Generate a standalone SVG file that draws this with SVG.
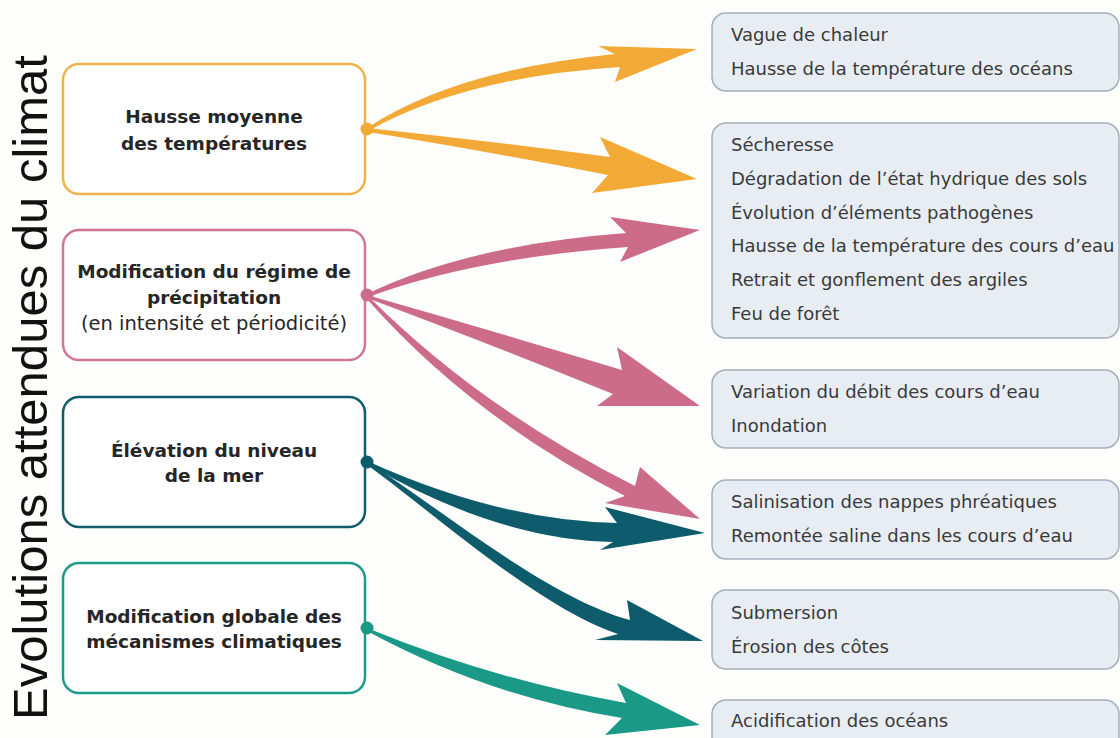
<svg xmlns="http://www.w3.org/2000/svg" width="1120" height="738" viewBox="0 0 1120 738">
<style>
.lbox{fill:#ffffff;stroke-width:2.5}
.rbox{fill:#e7edf2;stroke:#a3b0b9;stroke-width:1.5}
.lt{font-family:"DejaVu Sans",sans-serif;font-size:18.5px;font-weight:bold;fill:#262626;text-anchor:middle}
.lr{font-family:"DejaVu Sans",sans-serif;font-size:19.5px;fill:#262626;text-anchor:middle}
.rt{font-family:"DejaVu Sans",sans-serif;font-size:18px;fill:#3a3a3a}
.title{font-family:"Liberation Sans",Arial,sans-serif;font-size:49px;fill:#111111}
.y{fill:#f3a935}
.p{fill:#cd6c88}
.d{fill:#0e5b6b}
.g{fill:#1b9987}
</style>
<rect x="0" y="0" width="1120" height="738" fill="#fefefd"/>
<text class="title" transform="translate(47,720) rotate(-90)" textLength="665" lengthAdjust="spacing">Evolutions attendues du climat</text>

<g id="n-hausse-temp">
<rect class="lbox" x="63" y="64" width="302" height="130" rx="16" stroke="#efb24c"/>
<text class="lt" x="214" y="123">Hausse moyenne</text>
<text class="lt" x="214" y="150">des températures</text>
</g>
<g id="n-precipitation">
<rect class="lbox" x="63" y="230" width="302" height="130" rx="16" stroke="#ce7892"/>
<text class="lt" x="214" y="278">Modification du régime de</text>
<text class="lt" x="214" y="304">précipitation</text>
<text class="lr" x="214" y="330">(en intensité et périodicité)</text>
</g>
<g id="n-niveau-mer">
<rect class="lbox" x="63" y="397" width="302" height="130" rx="16" stroke="#135c6b"/>
<text class="lt" x="214" y="457">Élévation du niveau</text>
<text class="lt" x="214" y="482">de la mer</text>
</g>
<g id="n-mecanismes">
<rect class="lbox" x="63" y="563" width="302" height="130" rx="16" stroke="#1f9a89"/>
<text class="lt" x="214" y="623">Modification globale des</text>
<text class="lt" x="214" y="648">mécanismes climatiques</text>
</g>

<g id="r-chaleur">
<rect class="rbox" x="712" y="13" width="407" height="78" rx="14"/>
<text class="rt" x="731" y="41">Vague de chaleur</text>
<text class="rt" x="731" y="75">Hausse de la température des océans</text>
</g>
<g id="r-secheresse">
<rect class="rbox" x="712" y="123" width="407" height="215" rx="14"/>
<text class="rt" x="731" y="151">Sécheresse</text>
<text class="rt" x="731" y="185">Dégradation de l’état hydrique des sols</text>
<text class="rt" x="731" y="219">Évolution d’éléments pathogènes</text>
<text class="rt" x="731" y="252">Hausse de la température des cours d’eau</text>
<text class="rt" x="731" y="286">Retrait et gonflement des argiles</text>
<text class="rt" x="731" y="320">Feu de forêt</text>
</g>
<g id="r-debit">
<rect class="rbox" x="712" y="370" width="407" height="78" rx="14"/>
<text class="rt" x="731" y="398">Variation du débit des cours d’eau</text>
<text class="rt" x="731" y="432">Inondation</text>
</g>
<g id="r-saline">
<rect class="rbox" x="712" y="480" width="407" height="79" rx="14"/>
<text class="rt" x="731" y="508">Salinisation des nappes phréatiques</text>
<text class="rt" x="731" y="542">Remontée saline dans les cours d’eau</text>
</g>
<g id="r-submersion">
<rect class="rbox" x="712" y="590" width="407" height="79" rx="14"/>
<text class="rt" x="731" y="619">Submersion</text>
<text class="rt" x="731" y="653">Érosion des côtes</text>
</g>
<g id="r-acidification">
<rect class="rbox" x="712" y="700" width="407" height="60" rx="14"/>
<text class="rt" x="731" y="727">Acidification des océans</text>
</g>

<g id="connectors">
<path class="y" d="M367,128 Q455,70 615,54 L598,46 L697,49 L615,82 L620,67 Q465,77 368,131 Z"/>
<path class="y" d="M367,128 Q480,140 610,157 L600,137 L697,179 L592,193 L608,175 Q480,150 368,132 Z"/>
<path class="p" d="M367,294 Q468,245 626,233 L610,217 L700,230 L620,262 L628,247 Q474,258 368,297 Z"/>
<path class="p" d="M367,295 Q490,330 622,370 L617,347 L700,406 L597,406 L613,394 Q485,342 367,298 Z"/>
<path class="p" d="M368,296 Q480,408 635,486 L640,467 L700,519 L605,503 L625,496 Q472,418 366,298 Z"/>
<path class="d" d="M367,461 Q500,521 617,523 L605,507 L705,533 L600,550 L613,542 Q498,540 367,464 Z"/>
<path class="d" d="M367,462 C432,502 545,597 630,620 L627,600 L703,641 L595,640 L618,634 C538,608 428,508 367,465 Z"/>
<path class="g" d="M367,628 Q494,680 626,703 L617,683 L700,725 L605,735 L622,718 Q489,697 367,631 Z"/>
<circle class="y" cx="367" cy="129" r="6.5"/>
<circle class="p" cx="367" cy="295" r="6.5"/>
<circle class="d" cx="367" cy="462" r="6.5"/>
<circle class="g" cx="367" cy="628" r="6.5"/>
</g>
</svg>
